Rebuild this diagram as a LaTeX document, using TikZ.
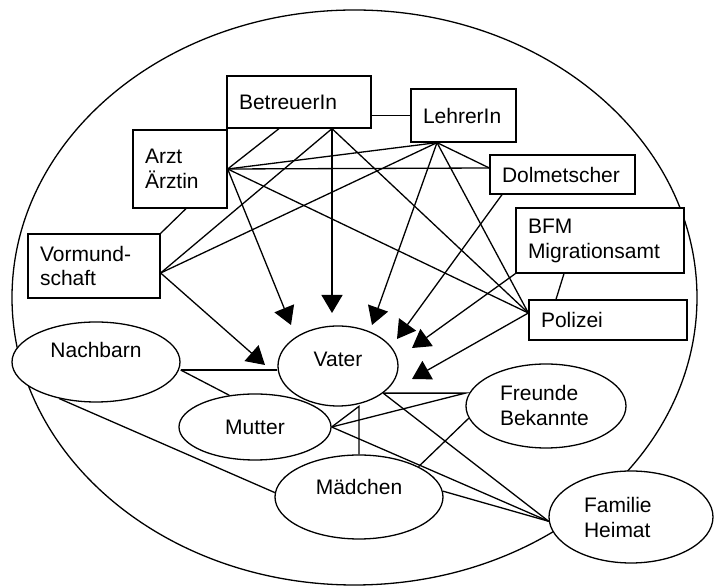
\documentclass[tikz,border=0pt]{standalone}
\usepackage{fontspec}
\setmainfont{Liberation Sans}
\usetikzlibrary{shapes.geometric,arrows.meta,calc}

\begin{document}
\begin{tikzpicture}[x=0.5pt, y=-0.5pt, line width=0.65pt,
        every node/.style={font=\fontsize{10.5}{12.5}\selectfont},
        box/.style={draw, fill=white, rectangle, inner xsep=6pt, inner ysep=0pt, align=left},
        ell/.style={draw, fill=white, ellipse, inner sep=0pt},
        textlift/.style={text height=8pt, text depth=#1},
        arr/.style={-{Triangle[length=9pt,width=10.5pt]}}]

                  \useasboundingbox (0,0) rectangle (714,587);
                  \draw (354.5,297.5) ellipse [x radius=171.25pt, y radius=143.75pt];

                  \node[box, text width=60pt, minimum height=26pt] (betreuer) at (299,102) {BetreuerIn};
                  \node[box, text width=40.5pt, minimum height=26.5pt] (lehrer) at (463.5,115.5) {LehrerIn};
                  \node[box, text width=35pt, minimum height=39pt] (arzt) at (180,169) {Arzt\\Ärztin};
                  \node[box, text width=60.5pt, minimum height=19.5pt] (dolm) at (562.5,174.5) {Dolmetscher};
                  \node[box, text width=72pt, minimum height=32.5pt] (bfm) at (600,240.5) {BFM\\Migrationsamt};
                  \node[box, text width=54pt, minimum height=32pt] (vormund) at (94,266) {Vormund-\\schaft};
                  \node[box, text width=67pt, minimum height=20pt] (polizei) at (608,320) {Polizei};

                  \node[ell, minimum width=84pt, minimum height=40pt, textlift=12pt] (nachbarn) at (96,362) {Nachbarn};
                  \node[ell, minimum width=60pt, minimum height=40pt, textlift=7pt] (vater) at (338,366) {Vater};
                  \node[ell, minimum width=76pt, minimum height=33pt] (mutter) at (255,427) {Mutter};
                  \node[ell, minimum width=84pt, minimum height=42pt, textlift=10.5pt] (maedchen) at (359,497) {Mädchen};
                  \node[ell, minimum width=80pt, minimum height=42pt, text width=46pt, align=left] (freunde) at (546,406) {Freunde\\Bekannte};
                  \node[ell, minimum width=82pt, minimum height=46pt, text width=47pt, align=left] (familie) at (631,517) {Familie\\Heimat};

                  \coordinate (vArzt) at (291,325);
                  \coordinate (vBetreuer) at (332,313);
                  \coordinate (vLehrer) at (372,325);
                  \coordinate (vDolm) at (397,339);
                  \coordinate (vBfm) at (412,348);
                  \coordinate (vPolizei) at (412,379);
                  \coordinate (vVormund) at (265,365);

                  \coordinate (bs) at ([xshift=16.5pt]betreuer.south);
                  \coordinate (ls) at ([xshift=-13.25pt]lehrer.south);
                  \coordinate (ds) at ([xshift=-30.25pt]dolm.south);
                  \coordinate (ve) at ([yshift=-3.5pt]vormund.east);
                  \coordinate (pw) at ([yshift=3.5pt]polizei.west);
                  \coordinate (dw) at ([yshift=3.25pt]dolm.west);

                  \draw (betreuer.east |- lehrer.west) -- (lehrer.west);
                  \draw ([xshift=-10pt]betreuer.south) -- (arzt.east);
                  \draw ([xshift=3pt]arzt.south) -- (vormund.north east);
                  \draw ([xshift=-18pt]bfm.south) -- ([xshift=-26pt]polizei.north);

                  \foreach \a/\b in {bs/ve, bs/pw, arzt.east/ls, arzt.east/dw, arzt.east/pw, ve/ls, ls/dw, ls/pw} {
                          \draw (\a) -- (\b);
                      }

                  \foreach \a/\b in {bs/vBetreuer, arzt.east/vArzt, ve/vVormund, ls/vLehrer, ds/vDolm, bfm.south west/vBfm, pw/vPolizei} {
                          \draw[arr] (\a) -- (\b);
                      }

                  \coordinate (nr) at ([yshift=-4pt]nachbarn.east);
                  \coordinate (vr) at (vater.-31.5);
                  \draw (nr) -- (nr -| vater.west);
                  \draw (nr) -- (mutter.129);
                  \draw (nachbarn.225) -- (maedchen.177);
                  \draw (vr) -- (vr -| freunde.west) -- (mutter.east);
                  \draw (maedchen.north) -- ++(0,-48) -- (mutter.east);
                  \draw (freunde.189) -- (maedchen.27);

                  \foreach \s in {vr, mutter.east, maedchen.4} {
                          \draw (\s) -- (familie.183);
                      }
              \end{tikzpicture}
\end{document}
